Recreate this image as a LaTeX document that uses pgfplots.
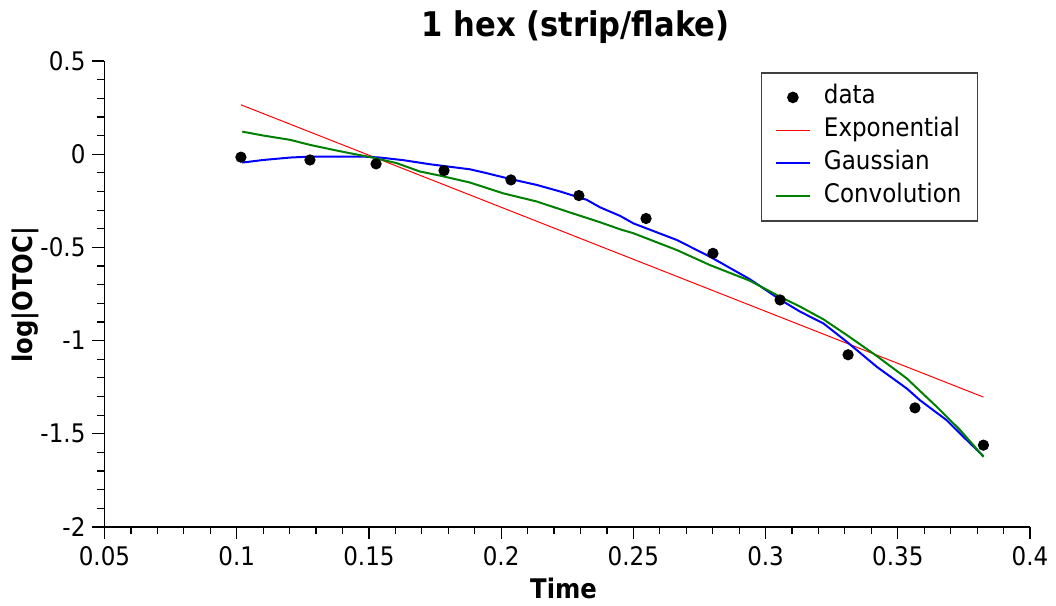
\documentclass[border=0pt]{standalone}
\usepackage{fontspec}
\setmainfont{DejaVu Sans Condensed}
\usepackage{pgfplots}
\pgfplotsset{compat=1.18}

\definecolor{fitgreen}{RGB}{0,128,0}

\begin{document}
\begin{tikzpicture}
\begin{axis}[
    scale only axis,
    width=462.75pt, height=233pt,
    xmin=0.05, xmax=0.4,
    ymin=-2, ymax=0.5,
    axis x line=bottom, axis y line=left,
    axis line style={-, line width=0.9pt},
    tick align=outside,
    major tick length=6pt, minor tick length=3.5pt,
    tick style={black, line width=0.6pt},
    xtick={0.05,0.1,0.15,0.2,0.25,0.3,0.35,0.4},
    xticklabels={0.05,0.1,0.15,0.2,0.25,0.3,0.35,0.4},
    ytick={-2,-1.5,-1,-0.5,0,0.5},
    yticklabels={-2,-1.5,-1,-0.5,0,0.5},
    minor x tick num=4, minor y tick num=4,
    ticklabel style={font=\fontsize{12.8}{14}\selectfont},
    title={1 hex (strip/flake)},
    title style={font=\fontsize{17}{19}\selectfont\bfseries,
        at={(axis description cs:0.509,1.046)}, anchor=center},
    xlabel={Time},
    xlabel style={font=\fontsize{13.5}{15}\selectfont\bfseries,
        at={(axis description cs:0.496,-0.131)}, anchor=center},
    ylabel={log|OTOC|},
    ylabel style={font=\fontsize{13.5}{15}\selectfont\bfseries,
        at={(axis description cs:-0.086,0.498)}, anchor=center},
    legend cell align=left,
    legend style={at={(axis description cs:0.944,0.9757)}, anchor=north east,
        draw=black!75, line width=0.6pt,
        font=\fontsize{12.8}{14}\selectfont,
        inner xsep=6.5pt, inner ysep=4.5pt, row sep=1pt,
        /tikz/every odd column/.append style={column sep=5pt},
        nodes={inner sep=1.5pt, text height=9.5pt, text depth=3pt}},
]

% data
\addplot[only marks, mark=*, mark size=2.6pt, black]
    coordinates {(0.1016,-0.016)(0.1277,-0.031)(0.1527,-0.052)(0.1784,-0.088)
    (0.2037,-0.138)(0.2294,-0.222)(0.2548,-0.345)(0.2801,-0.532)
    (0.3055,-0.782)(0.3312,-1.076)(0.3565,-1.361)(0.3824,-1.561)};
\addlegendentry{data}

% exponential fit
\addplot[red, line width=0.5pt]
    coordinates {(0.1016,0.265)(0.3824,-1.303)};
\addlegendentry{Exponential}

% gaussian fit
\addplot[blue, line width=1pt]
    coordinates {(0.1021,-0.045)(0.1101,-0.031)(0.1202,-0.018)(0.1277,-0.013)
    (0.1479,-0.013)(0.1542,-0.018)(0.1630,-0.032)(0.1731,-0.054)(0.1882,-0.081)
    (0.1946,-0.102)(0.2034,-0.133)(0.2135,-0.165)(0.2223,-0.200)(0.2324,-0.245)
    (0.2374,-0.285)(0.2450,-0.331)(0.2500,-0.371)(0.2664,-0.460)(0.2790,-0.550)
    (0.2941,-0.671)(0.3055,-0.780)(0.3131,-0.845)(0.3219,-0.908)(0.3307,-1.006)
    (0.3421,-1.141)(0.3534,-1.257)(0.3584,-1.320)(0.3685,-1.427)(0.3761,-1.534)
    (0.3824,-1.620)};
\addlegendentry{Gaussian}

% convolution fit
\addplot[fitgreen, line width=1pt]
    coordinates {(0.1021,0.121)(0.1101,0.100)(0.1202,0.077)(0.1277,0.050)
    (0.1353,0.027)(0.1429,0.005)(0.1504,-0.015)(0.1605,-0.048)(0.1693,-0.093)
    (0.1769,-0.115)(0.1882,-0.152)(0.2008,-0.210)(0.2135,-0.254)(0.2261,-0.313)
    (0.2374,-0.365)(0.2450,-0.403)(0.2500,-0.424)(0.2664,-0.514)(0.2790,-0.595)
    (0.2941,-0.679)(0.3055,-0.765)(0.3131,-0.818)(0.3219,-0.886)(0.3307,-0.970)
    (0.3421,-1.083)(0.3534,-1.203)(0.3648,-1.356)(0.3736,-1.480)(0.3786,-1.561)
    (0.3824,-1.624)};
\addlegendentry{Convolution}

\coordinate (bbsw) at (rel axis cs:-0.1129,-0.1674);
\coordinate (bbne) at (rel axis cs:1.0281,1.1309);
\end{axis}
\pgfresetboundingbox
\useasboundingbox (bbsw) rectangle (bbne);
\end{tikzpicture}
\end{document}
